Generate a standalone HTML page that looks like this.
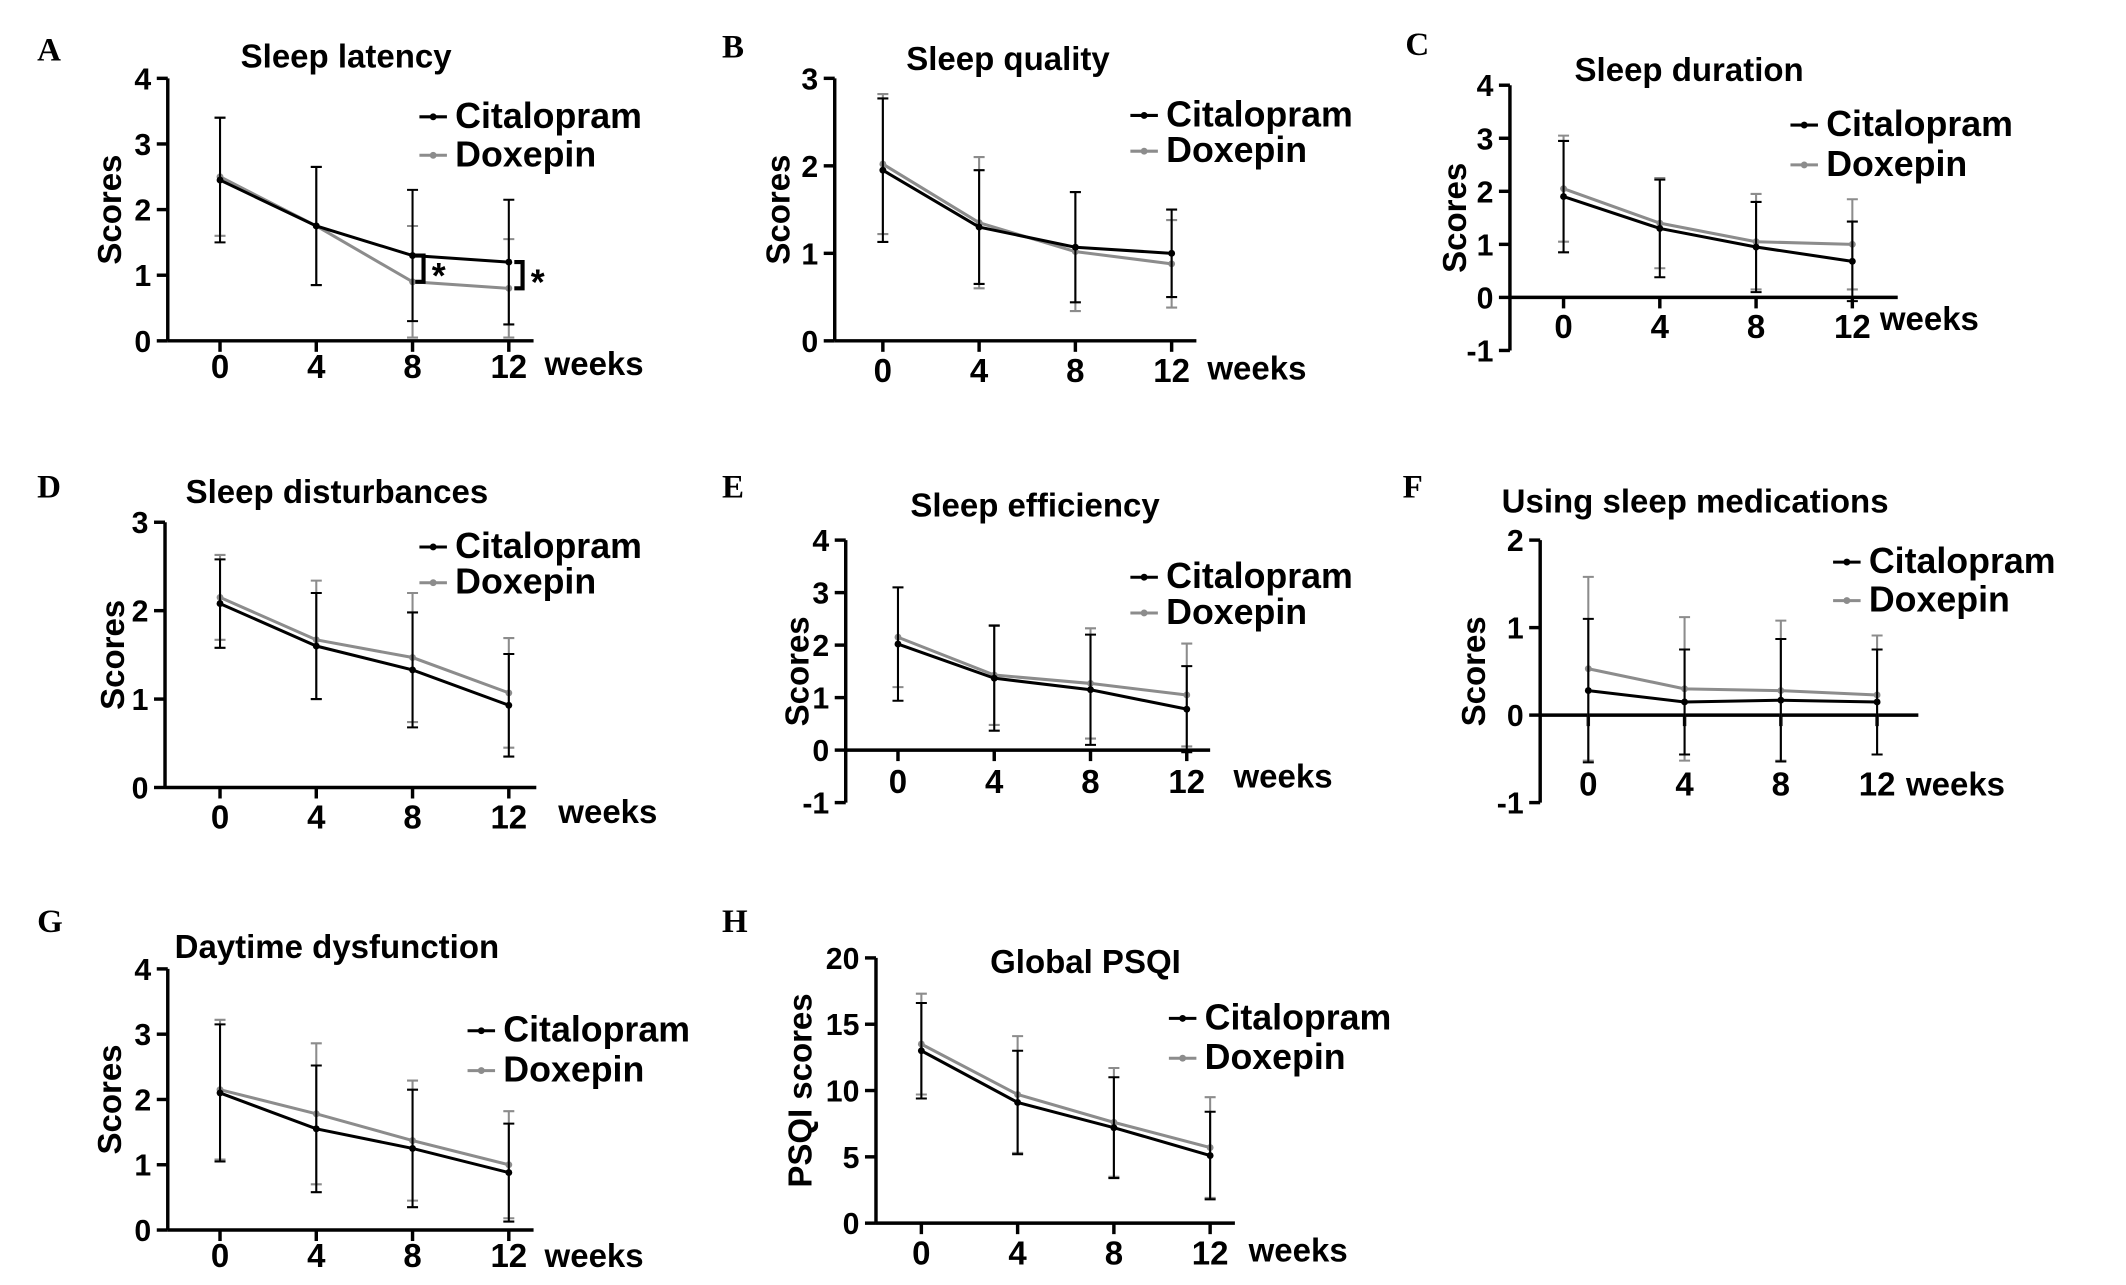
<!DOCTYPE html>
<html><head><meta charset="utf-8"><style>
html,body{margin:0;padding:0;background:#fff;}
svg{display:block;}
text{font-family:"Liberation Sans",Arial,sans-serif;font-weight:bold;fill:#000;}
.lt{font-family:"Liberation Serif",serif;font-size:24px;}
</style></head><body>
<svg id="fig" width="2126" height="1285" viewBox="0 0 1546 935" preserveAspectRatio="none" xmlns="http://www.w3.org/2000/svg"></svg>
<script>
const weeks = [0, 4, 8, 12];
const citA = [2.45, 1.75, 1.3, 1.2],  doxA = [2.5, 1.75, 0.9, 0.8];
const citAe = [0.95, 0.9, 1.0, 0.95], doxAe = [0.9, 0.9, 0.85, 0.75];
const citB = [1.95, 1.3, 1.07, 1.0],  doxB = [2.02, 1.35, 1.02, 0.88];
const citBe = [0.82, 0.65, 0.63, 0.5], doxBe = [0.8, 0.75, 0.68, 0.5];
const citC = [1.9, 1.3, 0.95, 0.68],  doxC = [2.05, 1.4, 1.05, 1.0];
const citCe = [1.05, 0.92, 0.85, 0.75], doxCe = [1.0, 0.85, 0.9, 0.85];
const citD = [2.08, 1.6, 1.33, 0.93], doxD = [2.15, 1.67, 1.47, 1.07];
const citDe = [0.5, 0.6, 0.65, 0.58], doxDe = [0.48, 0.67, 0.73, 0.62];
const citE = [2.02, 1.37, 1.15, 0.78], doxE = [2.15, 1.43, 1.27, 1.05];
const citEe = [1.08, 1.0, 1.05, 0.82], doxEe = [0.95, 0.95, 1.05, 0.98];
const citF = [0.28, 0.15, 0.17, 0.15], doxF = [0.53, 0.3, 0.28, 0.23];
const citFe = [0.82, 0.6, 0.7, 0.6], doxFe = [1.05, 0.82, 0.8, 0.68];
const citG = [2.1, 1.55, 1.25, 0.88], doxG = [2.15, 1.78, 1.37, 1.0];
const citGe = [1.05, 0.97, 0.9, 0.75], doxGe = [1.07, 1.08, 0.92, 0.82];
const citH = [13, 9.1, 7.2, 5.1], doxH = [13.5, 9.7, 7.6, 5.7];
const citHe = [3.6, 3.9, 3.8, 3.3], doxHe = [3.8, 4.4, 4.1, 3.8];
const ticksA = [0,1,2,3,4], ticksB = [0,1,2,3], ticksC = [-1,0,1,2,3,4], ticksF = [-1,0,1,2], ticksH = [0,5,10,15,20];

const svg = document.getElementById('fig');
const NS = 'http://www.w3.org/2000/svg';
function el(tag, attrs, parent, txt){const e=document.createElementNS(NS,tag);for(const k in attrs)e.setAttribute(k,attrs[k]);if(txt!==undefined)e.textContent=txt;(parent||svg).appendChild(e);return e;}

function panel(p){
  const g = el('g',{});
  
  
  const ymin=p.ticks[0], ymax=p.ticks[p.ticks.length-1];
  const Y=v=>p.yb+(v-ymin)/(ymax-ymin)*(p.yt-p.yb);
  const X=w=>p.x0+w/4*70;
  const lt=el('text',{x:p.lx,y:p.ly,class:'lt'},g,p.id);
   
  const t=el('text',{x:p.tx,y:p.ty,'font-size':24},g,p.title);
   
  const ya=el('line',{x1:p.ax,x2:p.ax,y1:p.yt,y2:p.yb,stroke:'#000','stroke-width':2.5},g);
   
  p.ticks.forEach(v=>{
    el('line',{x1:p.ax-8,x2:p.ax,y1:Y(v),y2:Y(v),stroke:'#000','stroke-width':2.5},g);
    const tl=el('text',{x:p.ax-12,y:Y(v)+8,'font-size':22,'text-anchor':'end'},g,v);
     
  });
  const xy=Y(p.xaxisAt);
  const xa=el('line',{x1:p.ax,x2:p.xend,y1:xy,y2:xy,stroke:'#000','stroke-width':2.5},g);
   
  weeks.forEach(w=>{
    el('line',{x1:X(w),x2:X(w),y1:xy,y2:xy+8,stroke:'#000','stroke-width':2.5},g);
    const tl=el('text',{x:X(w),y:p.xly,'font-size':24,'text-anchor':'middle'},g,w);
     
  });
  const wk=el('text',{x:p.wx,y:p.wy,'font-size':24},g,'weeks');
   
  const yl=el('text',{x:0,y:0,'font-size':24,'text-anchor':'middle',transform:`translate(${p.ylx},${(p.yt+p.yb)/2}) rotate(-90)`},g,p.ylab||'Scores');
   
  [[p.dox,p.doxe,'#8c8c8c','doxepin'],[p.cit,p.cite,'#000','citalopram']].forEach(([d,e,c,n])=>{
    d.forEach((v,i)=>{
      const x=X(weeks[i]);
      const eb=el('path',{d:`M${x},${Y(v-e[i])}V${Y(v+e[i])}M${x-4},${Y(v-e[i])}h8M${x-4},${Y(v+e[i])}h8`,stroke:c,'stroke-width':1.5,fill:'none'},g);
       
    });
    const ln=el('polyline',{points:d.map((v,i)=>X(weeks[i])+','+Y(v)).join(' '),stroke:c,'stroke-width':2.2,fill:'none'},g);
     
    d.forEach((v,i)=>{const pt=el('circle',{cx:X(weeks[i]),cy:Y(v),r:2.5,fill:c},g);
       });
  });
  [['Citalopram','#000',0],['Doxepin','#8c8c8c',1]].forEach(([n,c,k])=>{
    const yy=p.legy+k*p.legdy;
    const le=el('g',{},g);
     
    el('line',{x1:p.legx,x2:p.legx+20,y1:yy-8,y2:yy-8,stroke:c,'stroke-width':2.2},le);
    el('circle',{cx:p.legx+10,cy:yy-8,r:2.5,fill:c},le);
    el('text',{x:p.legx+26,y:yy,'font-size':26},le,n);
  });
  return {g,X,Y};
}

const P = [
 {id:'A',title:'Sleep latency',lx:27,ly:44,tx:175,ty:49,ax:122,yt:57,yb:248,ticks:ticksA,xaxisAt:0,x0:160,xend:388,xly:275,wx:396,wy:273,ylx:88,cit:citA,cite:citAe,dox:doxA,doxe:doxAe,legx:305,legy:93,legdy:28},
 {id:'B',title:'Sleep quality',lx:525,ly:42,tx:659,ty:51,ax:607,yt:57,yb:248,ticks:ticksB,xaxisAt:0,x0:642,xend:870,xly:278,wx:878,wy:276,ylx:574,cit:citB,cite:citBe,dox:doxB,doxe:doxBe,legx:822,legy:92,legdy:26},
 {id:'C',title:'Sleep duration',lx:1022,ly:40,tx:1145,ty:59,ax:1098,yt:62,yb:255,ticks:ticksC,xaxisAt:0,x0:1137,xend:1380,xly:246,wx:1367,wy:240,ylx:1066,cit:citC,cite:citCe,dox:doxC,doxe:doxCe,legx:1302,legy:99,legdy:29},
 {id:'D',title:'Sleep disturbances',lx:27,ly:362,tx:135,ty:366,ax:120,yt:380,yb:573,ticks:ticksB,xaxisAt:0,x0:160,xend:390,xly:603,wx:406,wy:599,ylx:90,cit:citD,cite:citDe,dox:doxD,doxe:doxDe,legx:305,legy:406,legdy:26},
 {id:'E',title:'Sleep efficiency',lx:525,ly:362,tx:662,ty:376,ax:615,yt:393,yb:584,ticks:ticksC,xaxisAt:0,x0:653,xend:880,xly:577,wx:897,wy:573,ylx:588,cit:citE,cite:citEe,dox:doxE,doxe:doxEe,legx:822,legy:428,legdy:26},
 {id:'F',title:'Using sleep medications',lx:1020,ly:362,tx:1092,ty:373,ax:1120,yt:393,yb:584,ticks:ticksF,xaxisAt:0,x0:1155,xend:1395,xly:579,wx:1386,wy:579,ylx:1080,cit:citF,cite:citFe,dox:doxF,doxe:doxFe,legx:1333,legy:417,legdy:28},
 {id:'G',title:'Daytime dysfunction',lx:27,ly:678,tx:127,ty:697,ax:122,yt:705,yb:895,ticks:ticksA,xaxisAt:0,x0:160,xend:388,xly:922,wx:396,wy:922,ylx:88,cit:citG,cite:citGe,dox:doxG,doxe:doxGe,legx:340,legy:758,legdy:29},
 {id:'H',title:'Global PSQI',lx:525,ly:678,tx:720,ty:708,ax:637,yt:697,yb:890,ticks:ticksH,xaxisAt:0,x0:670,xend:898,xly:920,wx:908,wy:918,ylx:590,ylab:'PSQI scores',cit:citH,cite:citHe,dox:doxH,doxe:doxHe,legx:850,legy:749,legdy:29}
];
const res = P.map(panel);
const A = res[0];
[[2,citA[2],doxA[2],8],[3,citA[3],doxA[3],10]].forEach(([i,c,d,off])=>{
  const x=A.X(weeks[i])+off;
  const br=el('path',{d:`M${x-6},${A.Y(c)}H${x}V${A.Y(d)}H${x-6}`,stroke:'#000','stroke-width':3,fill:'none'});
  
  
  const st=el('text',{x:x+6,y:(A.Y(c)+A.Y(d))/2+14,'font-size':26},svg,'*');
  
  
});
</script>
</body></html>
